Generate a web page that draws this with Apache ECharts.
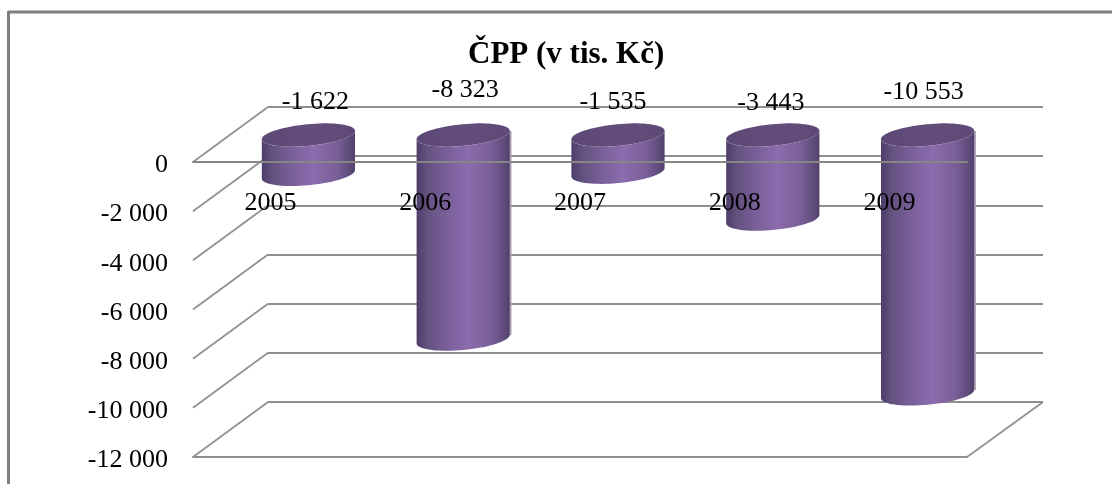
<!DOCTYPE html>
<html>
<head>
<meta charset="utf-8">
<style>html,body{margin:0;padding:0;background:#fff}#chart{width:1112px;height:484px}</style>
<script src="https://cdn.jsdelivr.net/npm/echarts@6/dist/echarts.min.js"></script>
</head>
<body>
<div id="chart"></div>
<script>
// ČPP per year, in thousands of CZK
const years = ['2005', '2006', '2007', '2008', '2009'];
const cpp = [-1622, -8323, -1535, -3443, -10553];
const yTicks = [0, -2000, -4000, -6000, -8000, -10000, -12000];

// Oblique projection of the chart box: how far the rear wall sits from the front plane
const DEPTH_X = 75;
const DEPTH_Y = 55;
const FONT = '"Liberation Serif", serif';

// Hand-placed shift of each value label, relative to the centre of its cylinder
const labelShift = [[7, -33], [2, -45], [-5, -33], [-2, -32], [-4, -43]];

const fmt = v => String(v).replace(/\B(?=(\d{3})+$)/g, ' ');

// Outline of a tilted ellipse between two angles, used for cylinder caps and bases
function arc(cx, cy, a, b, tilt, from, to, steps) {
  const pts = [];
  const c = Math.cos(tilt), s = Math.sin(tilt);
  for (let i = 0; i <= steps; i++) {
    const t = from + (to - from) * i / steps;
    const ex = a * Math.cos(t), ey = b * Math.sin(t);
    pts.push([cx + ex * c + ey * s, cy - ex * s + ey * c]);
  }
  return pts;
}

function renderCylinder(params, api) {
  const i = api.value(0);
  const front0 = api.coord([i, 0]);
  const frontV = api.coord([i, api.value(1)]);
  const cx = front0[0] + DEPTH_X / 2 + 0.5;
  const top = front0[1] - DEPTH_Y / 2 + 0.5;
  const bottom = frontV[1] - DEPTH_Y / 2;
  const a = 46.8, b = 10.8, tilt = 5.5 * Math.PI / 180;
  const t0 = Math.atan2(b * Math.sin(tilt), a * Math.cos(tilt));
  const lowerBase = arc(cx, bottom, a, b, tilt, t0, t0 + Math.PI, 36);
  const lowerCap = arc(cx, top, a, b, tilt, t0, t0 + Math.PI, 36).reverse();
  const wholeCap = arc(cx, top, a, b, tilt, 0, Math.PI * 2, 72);
  const body = new echarts.graphic.LinearGradient(0, 0, 1, 0, [
    { offset: 0, color: '#4d3d6a' },
    { offset: 0.12, color: '#64527f' },
    { offset: 0.35, color: '#7c619d' },
    { offset: 0.55, color: '#8b6cad' },
    { offset: 0.8, color: '#7a5f99' },
    { offset: 0.95, color: '#5c4a77' },
    { offset: 1, color: '#51416b' }
  ]);
  const cap = new echarts.graphic.LinearGradient(0, 0, 1, 0, [
    { offset: 0, color: '#5c4874' },
    { offset: 0.5, color: '#634d7c' },
    { offset: 1, color: '#5e4a77' }
  ]);
  const shift = labelShift[i];
  const children = [
    { type: 'polygon', shape: { points: lowerBase.concat(lowerCap) }, style: { fill: body } },
    { type: 'polygon', shape: { points: wholeCap }, style: { fill: cap } },
    {
      type: 'text', x: cx + shift[0], y: top + shift[1],
      style: { text: fmt(api.value(1)), font: '26px ' + FONT, fill: '#000', align: 'center', verticalAlign: 'middle' }
    }
  ];
  // The tallest cylinders carry a faint pale edge on their right side
  if (bottom - top > 150) {
    children.unshift({ type: 'rect', shape: { x: cx + a - 0.5, y: top - 4, width: 2, height: bottom - top }, style: { fill: '#aaa2b8' } });
  }
  return { type: 'group', children };
}

// Left edges of the box at every tick, plus the right edge of the floor
function renderEdges(params, api) {
  const v = api.value(0);
  const box = params.coordSys;
  const y = api.coord([0, v])[1];
  const style = { stroke: '#929292', lineWidth: 1.8, fill: null };
  const children = [
    { type: 'line', shape: { x1: box.x, y1: y, x2: box.x + DEPTH_X, y2: y - DEPTH_Y }, style }
  ];
  if (v === yTicks[yTicks.length - 1]) {
    const xr = box.x + box.width;
    children.push({ type: 'line', shape: { x1: xr, y1: y, x2: xr + DEPTH_X + 1, y2: y - DEPTH_Y }, style });
  }
  return { type: 'group', children };
}

const wall = { color: '#8f8f8f', width: 2 };
const chart = echarts.init(document.getElementById('chart'), null, { renderer: 'canvas' });
chart.setOption({
  animation: false,
  backgroundColor: '#fff',
  title: {
    text: 'ČPP (v tis. Kč)',
    left: 463, top: 34,
    textStyle: { fontFamily: FONT, fontSize: 31, fontWeight: 'bold', color: '#000' }
  },
  graphic: [
    { type: 'line', shape: { x1: 8, y1: 12, x2: 1112, y2: 12 }, style: { stroke: '#808080', lineWidth: 3 } },
    { type: 'line', shape: { x1: 8.5, y1: 11, x2: 8.5, y2: 484 }, style: { stroke: '#808080', lineWidth: 3 } }
  ],
  grid: [
    { left: 193, right: 145, top: 162, bottom: 27 },
    { left: 193 + DEPTH_X, right: 145 - DEPTH_X - 1, top: 162 - DEPTH_Y, bottom: 27 + DEPTH_Y }
  ],
  xAxis: [
    {
      gridIndex: 0, type: 'category', data: years, position: 'top', z: 10,
      axisLine: { lineStyle: { color: '#868686', width: 2 } },
      axisTick: { show: false },
      axisLabel: { inside: true, margin: 28, fontFamily: FONT, fontSize: 26, color: '#000' }
    },
    {
      gridIndex: 0, type: 'category', data: years, position: 'bottom',
      axisLine: { lineStyle: { color: '#8f8f8f', width: 2 } },
      axisTick: { show: false }, axisLabel: { show: false }
    },
    { gridIndex: 1, type: 'category', data: years, show: false }
  ],
  yAxis: [
    {
      gridIndex: 0, type: 'value', min: -12000, max: 0, interval: 2000,
      axisLine: { show: false }, axisTick: { show: false }, splitLine: { show: false },
      axisLabel: {
        margin: 25,
        formatter: v => '{t|' + fmt(v) + '}',
        // Top padding sits the figures just below their tick height
        rich: { t: { fontFamily: FONT, fontSize: 26, color: '#000', padding: [7, 0, 0, 0] } }
      }
    },
    {
      gridIndex: 1, type: 'value', min: -12000, max: 0, interval: 2000,
      axisLine: { show: false }, axisTick: { show: false }, axisLabel: { show: false },
      splitLine: { show: true, lineStyle: wall }
    }
  ],
  series: [
    {
      type: 'custom', xAxisIndex: 0, yAxisIndex: 0, z: 1, silent: true,
      renderItem: renderEdges,
      encode: { y: 0 },
      data: yTicks.map(v => [v])
    },
    {
      type: 'custom', xAxisIndex: 0, yAxisIndex: 0, z: 3, silent: true,
      renderItem: renderCylinder,
      encode: { x: 0, y: 1 },
      data: cpp.map((v, i) => [i, v])
    }
  ]
});
</script>
</body>
</html>
